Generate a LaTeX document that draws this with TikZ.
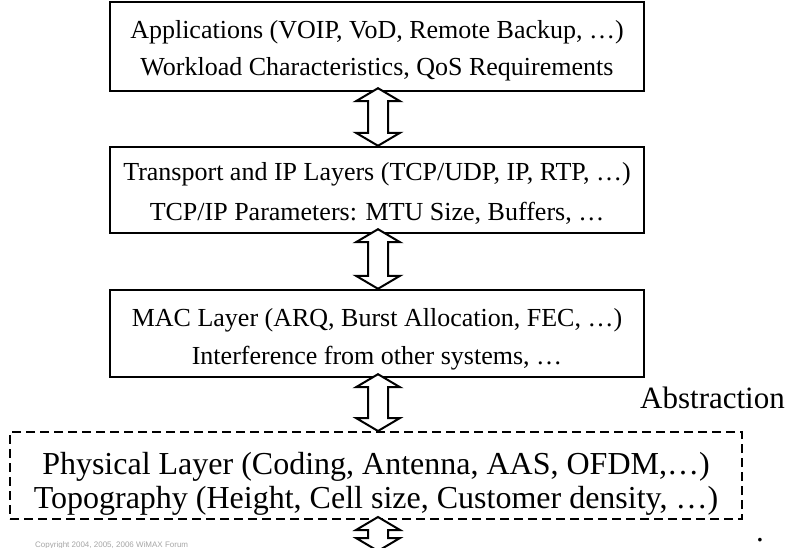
\documentclass[tikz,border=0pt]{standalone}
\usepackage{fontspec}
\setmainfont{Liberation Serif}
\setsansfont{Liberation Sans}
\usetikzlibrary{calc}

% struts that move a two-line text inside its frame
\newcommand{\hi}[1]{\rule{0pt}{#1pt}}
\newcommand{\lo}{\rule[-10pt]{0pt}{10pt}}

% hollow double arrow from #1 (upper tip) to #2 (lower tip)
\newcommand{\updown}[2]{%
  \draw[blockarr] let \p1=#1, \p2=#2 in
    (\x1,\y1) -- ({\x1-22pt},{\y1-13pt}) -- ({\x1-10pt},{\y1-13pt})
    -- ({\x1-10pt},{\y2+13pt}) -- ({\x1-22pt},{\y2+13pt}) -- (\x1,\y2)
    -- ({\x1+22pt},{\y2+13pt}) -- ({\x1+10pt},{\y2+13pt})
    -- ({\x1+10pt},{\y1-13pt}) -- ({\x1+22pt},{\y1-13pt}) -- cycle;}

\begin{document}
\begin{tikzpicture}[
    x=1pt, y=-1pt,
    layer/.style={draw, line width=2.4pt, minimum width=534pt, inner sep=0pt, align=center,
                  font=\fontsize{26}{37}\selectfont},
    ideal/.style={layer, line width=2pt, dash pattern=on 9pt off 5pt, minimum width=732pt},
    blockarr/.style={draw=black, fill=white, line width=2pt, line join=miter},
    plain/.style={inner sep=0pt, font=\fontsize{31}{36}\selectfont}
]
\useasboundingbox (0,0) rectangle (787,548);
\clip (0,0) rectangle (787,548);
\fill[white] (0,0) rectangle (787,548);

\node[layer, minimum height=89pt] (app) at (377,46.5)
  {\hi{32}Applications (VOIP, VoD, Remote Backup, …)\\Workload Characteristics, QoS Requirements\lo};
\node[layer, minimum height=86pt, font=\fontsize{26}{40}\selectfont] (tra) at (377,190)
  {\hi{32}Transport and IP Layers (TCP/UDP, IP, RTP, …)\\TCP/IP Parameters: MTU Size, Buffers, …\lo};
\node[layer, minimum height=87pt, font=\fontsize{26}{38}\selectfont] (mac) at (377,333.5)
  {\hi{33}MAC Layer (ARQ, Burst Allocation, FEC, …)\\Interference from other systems, …\lo};
\node[ideal, minimum height=87pt, font=\fontsize{32}{34}\selectfont] (phy) at (376,475.5)
  {\hi{41}Physical Layer (Coding, Antenna, AAS, OFDM,…)\\Topography (Height, Cell size, Customer density, …)\lo};

\node[plain, anchor=base west] (abs) at (640,408) {Abstraction};
\node[plain, anchor=base] (dot) at (760,541) {.};
\node[inner sep=0pt, anchor=base west, text=black!35,
      font=\sffamily\fontsize{8}{9}\selectfont] (copy) at (35,547)
  {Copyright 2004, 2005, 2006 WiMAX Forum};

\coordinate (down) at (378,551);

\updown{($(app.south)+(1,-4)$)}{($(tra.north)+(1,0)$)}
\updown{($(tra.south)+(1,-5)$)}{($(mac.north)+(1,0)$)}
\updown{($(mac.south)+(1,-4)$)}{($(phy.north)+(2,0)$)}
\updown{($(phy.south)+(2,-3)$)}{(down)}
\end{tikzpicture}
\end{document}
